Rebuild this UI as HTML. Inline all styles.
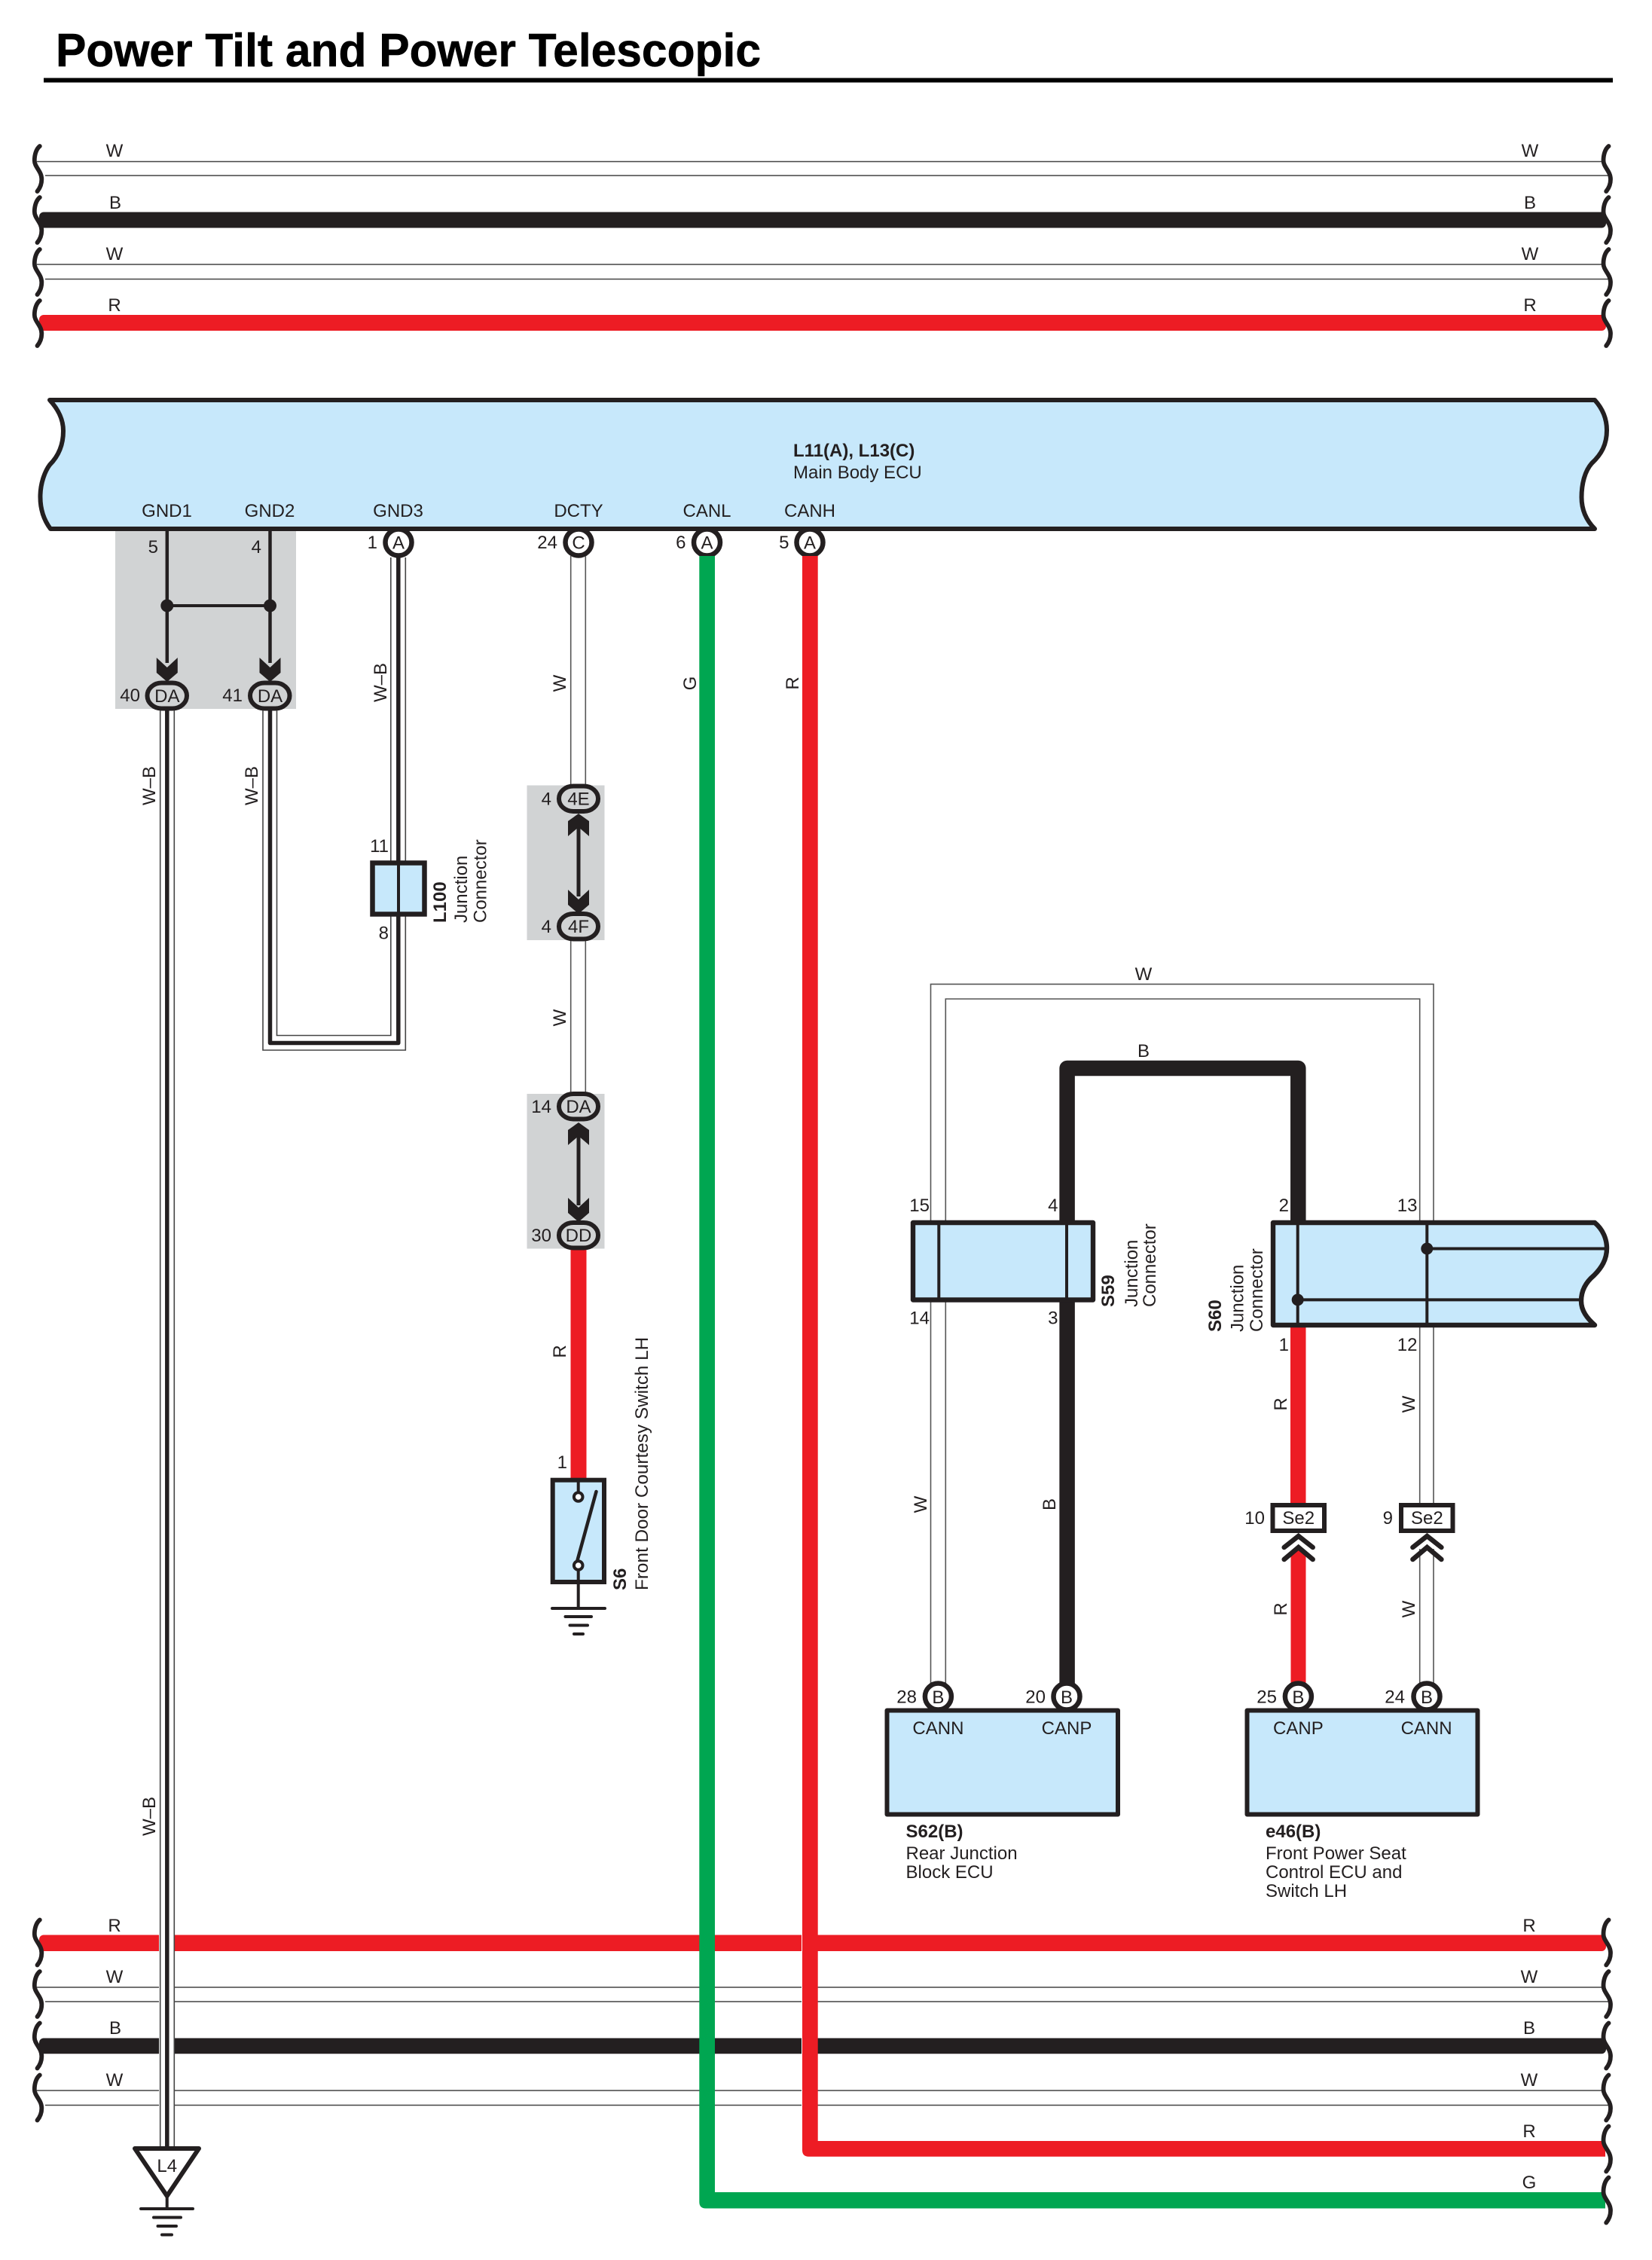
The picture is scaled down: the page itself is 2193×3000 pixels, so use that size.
<!DOCTYPE html>
<html><head><meta charset="utf-8"><title>Power Tilt and Power Telescopic</title>
<style>
html,body{margin:0;padding:0;background:#fff}
svg{display:block}
text{font-family:"Liberation Sans",sans-serif;font-size:24px;fill:#231f20}
.m{text-anchor:middle}.e{text-anchor:end}.b{font-weight:bold}
.wl{fill:none;stroke:#555;stroke-width:1.6}
.k{fill:none;stroke:#231f20}
</style></head><body>
<svg xmlns="http://www.w3.org/2000/svg" width="2193" height="3000" viewBox="0 0 2193 3000">
<defs>
<path id="sq" d="M7,-30 C2,-26 0,-18 0,-11 C0,-2 9.500,3 9.500,14 C9.500,21 7,26 3.700,30" fill="none" stroke="#231f20" stroke-width="5.800" stroke-linecap="round"/>
<polygon id="cd" points="-14,0 0,13 14,0 14,20 0,32 -14,20" fill="#231f20"/>
<polygon id="cu" points="-14,30 0,18 14,30 14,10 0,0 -14,10" fill="#231f20"/>
<path id="dc" d="M-19,18 L0,3 L19,18 M-19,34 L0,18 L19,34" fill="none" stroke="#231f20" stroke-width="6.500" stroke-linecap="round" stroke-linejoin="miter"/>
</defs>

<!-- title -->
<text class="b" x="74" y="88" style="font-size:62px;fill:#000;stroke:#000;stroke-width:.6" textLength="936" lengthAdjust="spacingAndGlyphs">Power Tilt and Power Telescopic</text>
<rect x="58" y="103.500" width="2083" height="6" fill="#000"/>

<!-- top bus -->
<g class="wl" style="stroke:#444"><path d="M49,214.500H2126M60,233H2136M49,351H2126M60,370.500H2136"/></g>
<rect x="52" y="281.500" width="2080" height="21" rx="6" fill="#231f20"/>
<rect x="52" y="418" width="2080" height="21" rx="6" fill="#ed1c24"/>
<use href="#sq" x="45.800" y="224"/><use href="#sq" x="45.800" y="292"/><use href="#sq" x="45.800" y="361"/><use href="#sq" x="45.800" y="429"/>
<use href="#sq" x="2128.500" y="224"/><use href="#sq" x="2128.500" y="292"/><use href="#sq" x="2128.500" y="361"/><use href="#sq" x="2128.500" y="429"/>
<g class="m">
<text x="152" y="208">W</text><text x="153" y="277">B</text><text x="152" y="345">W</text><text x="152" y="413">R</text>
<text x="2031" y="208">W</text><text x="2031" y="277">B</text><text x="2031" y="345">W</text><text x="2031" y="413">R</text>
</g>

<!-- grey boxes -->
<rect x="153" y="702" width="240" height="239" fill="#d1d3d4"/>
<rect x="699.500" y="1042.500" width="103" height="205.500" fill="#d1d3d4"/>
<rect x="699.500" y="1452" width="103" height="205.500" fill="#d1d3d4"/>

<!-- main ECU -->
<path d="M66,531 H2117 C2127,542 2133,555 2133,571 C2133,590 2126,603 2113,615 C2104,625 2099.500,642 2099.500,660 C2099.500,678 2107,692 2117,702 H67 C58,690 53,675 53.500,657 C54,640 60,625 66,617 C78,605 84,590 84,572 C84,555 76,542 66,531 Z" fill="#c7e8fb" stroke="#231f20" stroke-width="6" stroke-linejoin="round"/>
<text class="b" x="1053" y="606">L11(A), L13(C)</text>
<text x="1053" y="635">Main Body ECU</text>
<g class="m">
<text x="221.500" y="686">GND1</text><text x="358" y="686">GND2</text><text x="528.500" y="686">GND3</text>
<text x="768" y="686">DCTY</text><text x="938.500" y="686">CANL</text><text x="1075" y="686">CANH</text>
</g>

<!-- GND1/GND2 junction -->
<path class="k" stroke-width="4.500" d="M221.800,704V880M358.500,704V880"/>
<path class="k" stroke-width="4" d="M221.800,804H358.500"/>
<circle cx="221.800" cy="804" r="8.500" fill="#231f20"/><circle cx="358.500" cy="804" r="8.500" fill="#231f20"/>
<use href="#cd" x="221.800" y="873"/><use href="#cd" x="358.500" y="873"/>
<g fill="#d1d3d4" stroke="#231f20" stroke-width="6">
<rect x="195.500" y="906.500" width="52.500" height="34" rx="19" ry="17"/>
<rect x="332" y="906.500" width="52.500" height="34" rx="19" ry="17"/>
</g>
<text class="m" x="221.800" y="932">DA</text><text class="m" x="358.500" y="932">DA</text>
<text class="e" x="186" y="931">40</text><text class="e" x="322" y="931">41</text>
<text class="e" x="210" y="734">5</text><text class="e" x="347" y="734">4</text>

<!-- bottom bus -->
<g class="wl" style="stroke:#444"><path d="M49,2638H2126M60,2657H2136M49,2775H2126M60,2794.500H2136"/></g>
<rect x="52" y="2568.500" width="2080" height="21.500" rx="6" fill="#ed1c24"/>
<rect x="52" y="2705.500" width="2080" height="20.800" rx="6" fill="#231f20"/>
<rect x="1064" y="2560" width="1.200" height="250" fill="#fff"/>
<rect x="211" y="2560" width="20.700" height="245" fill="#fff"/>
<use href="#sq" x="45.800" y="2578.500"/><use href="#sq" x="45.800" y="2647"/><use href="#sq" x="45.800" y="2715.500"/><use href="#sq" x="45.800" y="2784.500"/>
<use href="#sq" x="2128.500" y="2578.500"/><use href="#sq" x="2128.500" y="2647"/><use href="#sq" x="2128.500" y="2715.500"/><use href="#sq" x="2128.500" y="2784.500"/>
<g class="m">
<text x="152" y="2564">R</text><text x="152" y="2632">W</text><text x="153" y="2700">B</text><text x="152" y="2769">W</text>
<text x="2030" y="2564">R</text><text x="2030" y="2632">W</text><text x="2030" y="2700">B</text><text x="2030" y="2769">W</text><text x="2030" y="2837">R</text><text x="2030" y="2905">G</text>
</g>

<!-- W-B wire 40 to L4 -->
<path class="wl" style="stroke:#444" d="M212.700,943V2852M231.300,943V2852"/>
<path class="k" stroke-width="5.500" d="M221.800,943V2852"/>
<path d="M179,2852 H264 L221.700,2915 Z" fill="#fff" stroke="#231f20" stroke-width="6" stroke-linejoin="round"/>
<text class="m" x="221.700" y="2883">L4</text>
<path class="k" stroke-width="4" stroke-linecap="round" d="M221.700,2915V2932M187,2932H256M204,2943.500H240M209.500,2955H234M215,2966.500H228"/>

<!-- W-B loop 41 to L100 -->
<path class="wl" style="stroke:#444" d="M349,943V1394H538.300V740"/>
<path class="wl" style="stroke:#444" d="M367.500,943V1374.500H518.800V740"/>
<path class="k" stroke-width="5.500" stroke-linejoin="round" d="M358.500,943V1384.500H528.800V738"/>
<rect x="494.500" y="1145.500" width="69" height="68" fill="#c7e8fb" stroke="#231f20" stroke-width="6.500"/>
<path class="k" stroke-width="4" d="M529,1145V1214"/>
<text class="e" x="516" y="1131">11</text><text class="e" x="516" y="1246.500">8</text>

<!-- circles at ECU -->
<g fill="#fff" stroke="#231f20" stroke-width="6.500">
<circle cx="529" cy="720" r="17.500"/><circle cx="768" cy="720" r="17.500"/><circle cx="938.500" cy="720" r="17.500"/><circle cx="1075" cy="720" r="17.500"/>
</g>
<g class="m"><text x="529" y="728.500">A</text><text x="768" y="728.500">C</text><text x="938.500" y="728.500">A</text><text x="1075" y="728.500">A</text></g>
<text class="e" x="501" y="728">1</text><text class="e" x="740" y="728">24</text><text class="e" x="910.500" y="728">6</text><text class="e" x="1047.500" y="728">5</text>

<!-- DCTY chain -->
<path class="wl" d="M757.700,738V1042M777.300,738V1042M757.700,1248V1452M777.300,1248V1452"/>
<path class="k" stroke-width="5" d="M768,1090V1190M768,1500V1600"/>
<use href="#cu" x="768" y="1080"/><use href="#cd" x="768" y="1181"/>
<use href="#cu" x="768" y="1490"/><use href="#cd" x="768" y="1590"/>
<rect x="757.500" y="1658" width="21" height="306" fill="#ed1c24"/>
<g fill="#d1d3d4" stroke="#231f20" stroke-width="6">
<rect x="742" y="1043.500" width="52" height="33.500" rx="19" ry="16.500"/>
<rect x="742" y="1213" width="52" height="33.500" rx="19" ry="16.500"/>
<rect x="742" y="1452" width="52" height="33.500" rx="19" ry="16.500"/>
<rect x="742" y="1623" width="52" height="33.500" rx="19" ry="16.500"/>
</g>
<g class="m"><text x="768" y="1068.500">4E</text><text x="768" y="1238">4F</text><text x="768" y="1477">DA</text><text x="768" y="1648">DD</text></g>
<g class="e"><text x="732" y="1068.500">4</text><text x="732" y="1238">4</text><text x="732" y="1477">14</text><text x="732" y="1648">30</text></g>

<!-- S6 -->
<rect x="733.700" y="1964.700" width="68.300" height="135.300" fill="#c7e8fb" stroke="#231f20" stroke-width="6"/>
<path class="k" stroke-width="4" d="M767.700,1965V1982M767.700,2083V2135"/>
<path class="k" stroke-width="4.500" stroke-linecap="round" d="M766,2073L791.500,1980"/>
<circle cx="767.700" cy="1987" r="5.800" fill="#fff" stroke="#231f20" stroke-width="4"/>
<circle cx="767.700" cy="2078" r="5.800" fill="#fff" stroke="#231f20" stroke-width="4"/>
<path class="k" stroke-width="4" stroke-linecap="round" d="M733,2135H803M750.500,2146H785M756.500,2157.500H780M762,2169H774"/>
<text class="e" x="753" y="1949">1</text>

<!-- CANL / CANH -->
<path d="M928.300,738 V2923 Q928.300,2931.500 937,2931.500 H2131 V2910 H949 V738 Z" fill="#00a651"/>
<path d="M1065,738 V2854 Q1065,2862.700 1073.500,2862.700 H2131 V2842 H1085.700 V738 Z" fill="#ed1c24"/>
<use href="#sq" x="2128.500" y="2852.500"/><use href="#sq" x="2128.500" y="2920.500"/>

<!-- W loop -->
<path class="wl" d="M1235.500,1622V1306.400H1903V1622M1255.300,1622V1326H1884.700V1622"/>
<path class="wl" d="M1235.500,1726V2238M1255.300,1726V2238M1884.700,1760V1998M1903,1760V1998M1884.700,2056V2238M1903,2056V2238"/>
<!-- black -->
<path class="k" stroke-width="20.500" stroke-linejoin="round" d="M1416.600,1622V1418H1723.300V1622M1416.600,1726V2240"/>
<!-- red right -->
<rect x="1713" y="1760" width="20.500" height="236" fill="#ed1c24"/>
<polygon points="1713.500,2064 1723.500,2056 1733.500,2064 1733.500,2240 1713.500,2240" fill="#ed1c24"/>

<!-- S59 -->
<rect x="1212" y="1623" width="239" height="102.500" fill="#c7e8fb" stroke="#231f20" stroke-width="6.400" stroke-linejoin="round"/>
<path class="k" stroke-width="4" d="M1246.300,1623V1726M1416,1623V1726"/>
<!-- S60 -->
<path d="M1690,1623 H2117 C2128,1632 2133,1645 2133,1657 C2133,1672 2126,1683 2116,1693 C2104,1703 2099,1715 2099,1727 C2099,1740 2107,1750 2117,1759 H1690 Z" fill="#c7e8fb" stroke="#231f20" stroke-width="6.400" stroke-linejoin="round"/>
<path class="k" stroke-width="4" d="M1722.700,1623V1759M1894.300,1623V1759M1894,1657.500H2133M1722.700,1725.400H2099"/>
<circle cx="1894.300" cy="1657.500" r="8" fill="#231f20"/><circle cx="1722.700" cy="1725.400" r="8" fill="#231f20"/>
<g class="e">
<text x="1234" y="1608">15</text><text x="1404.500" y="1608">4</text><text x="1711" y="1608">2</text><text x="1881.500" y="1608">13</text>
<text x="1234" y="1757.500">14</text><text x="1404.500" y="1757.500">3</text><text x="1711" y="1793">1</text><text x="1881.500" y="1793">12</text>
</g>
<text class="m" x="1518" y="1301">W</text><text class="m" x="1518" y="1403">B</text>

<!-- Se2 -->
<g fill="#fff" stroke="#231f20" stroke-width="6">
<rect x="1689.500" y="1998" width="68.500" height="34"/>
<rect x="1860" y="1998" width="68.500" height="34"/>
</g>
<text class="m" x="1723.700" y="2023">Se2</text><text class="m" x="1894.400" y="2023">Se2</text>
<text class="e" x="1679" y="2023">10</text><text class="e" x="1849" y="2023">9</text>
<use href="#dc" x="1723.700" y="2036"/><use href="#dc" x="1894.400" y="2036"/>

<!-- lower boxes -->
<rect x="1177.500" y="2270.500" width="306.500" height="138" fill="#c7e8fb" stroke="#231f20" stroke-width="6" stroke-linejoin="round"/>
<rect x="1655.500" y="2270.500" width="306" height="138" fill="#c7e8fb" stroke="#231f20" stroke-width="6" stroke-linejoin="round"/>
<g fill="#fff" stroke="#231f20" stroke-width="6.500">
<circle cx="1245.400" cy="2252" r="17.500"/><circle cx="1416" cy="2252" r="17.500"/><circle cx="1723.400" cy="2252" r="17.500"/><circle cx="1894" cy="2252" r="17.500"/>
</g>
<g class="m"><text x="1245.400" y="2261">B</text><text x="1416" y="2261">B</text><text x="1723.400" y="2261">B</text><text x="1894" y="2261">B</text>
<text x="1245.400" y="2302">CANN</text><text x="1416" y="2302">CANP</text><text x="1723.400" y="2302">CANP</text><text x="1893.600" y="2302">CANN</text></g>
<g class="e"><text x="1217" y="2260.500">28</text><text x="1388" y="2260.500">20</text><text x="1695" y="2260.500">25</text><text x="1865" y="2260.500">24</text></g>
<text class="b" x="1202.500" y="2439">S62(B)</text><text x="1202.500" y="2468">Rear Junction</text><text x="1202.500" y="2493">Block ECU</text>
<text class="b" x="1680" y="2439">e46(B)</text><text x="1680" y="2468">Front Power Seat</text><text x="1680" y="2493">Control ECU and</text><text x="1680" y="2518">Switch LH</text>

<!-- rotated labels -->
<g class="m">
<text transform="translate(206,1043) rotate(-90)">W–B</text>
<text transform="translate(342,1043) rotate(-90)">W–B</text>
<text transform="translate(513,906) rotate(-90)">W–B</text>
<text transform="translate(206,2411) rotate(-90)">W–B</text>
<text transform="translate(751,907) rotate(-90)">W</text>
<text transform="translate(751,1351) rotate(-90)">W</text>
<text transform="translate(751,1794) rotate(-90)">R</text>
<text transform="translate(924,907) rotate(-90)">G</text>
<text transform="translate(1060,907) rotate(-90)">R</text>
<text transform="translate(1230,1997) rotate(-90)">W</text>
<text transform="translate(1401,1997) rotate(-90)">B</text>
<text transform="translate(1708,1864) rotate(-90)">R</text>
<text transform="translate(1878,1864) rotate(-90)">W</text>
<text transform="translate(1708,2136) rotate(-90)">R</text>
<text transform="translate(1878,2136) rotate(-90)">W</text>
</g>
<text class="b" transform="translate(592,1225) rotate(-90)">L100</text>
<text transform="translate(620,1225) rotate(-90)">Junction</text>
<text transform="translate(645.500,1225) rotate(-90)">Connector</text>
<text class="b" transform="translate(831,2111) rotate(-90)">S6</text>
<text transform="translate(860,2111) rotate(-90)" style="font-size:24.300px">Front Door Courtesy Switch LH</text>
<text class="b" transform="translate(1479,1735) rotate(-90)">S59</text>
<text transform="translate(1510,1735) rotate(-90)">Junction</text>
<text transform="translate(1534,1735) rotate(-90)">Connector</text>
<text class="b" transform="translate(1621,1768) rotate(-90)">S60</text>
<text transform="translate(1650.700,1768) rotate(-90)">Junction</text>
<text transform="translate(1676,1768) rotate(-90)">Connector</text>
</svg>
</body></html>
